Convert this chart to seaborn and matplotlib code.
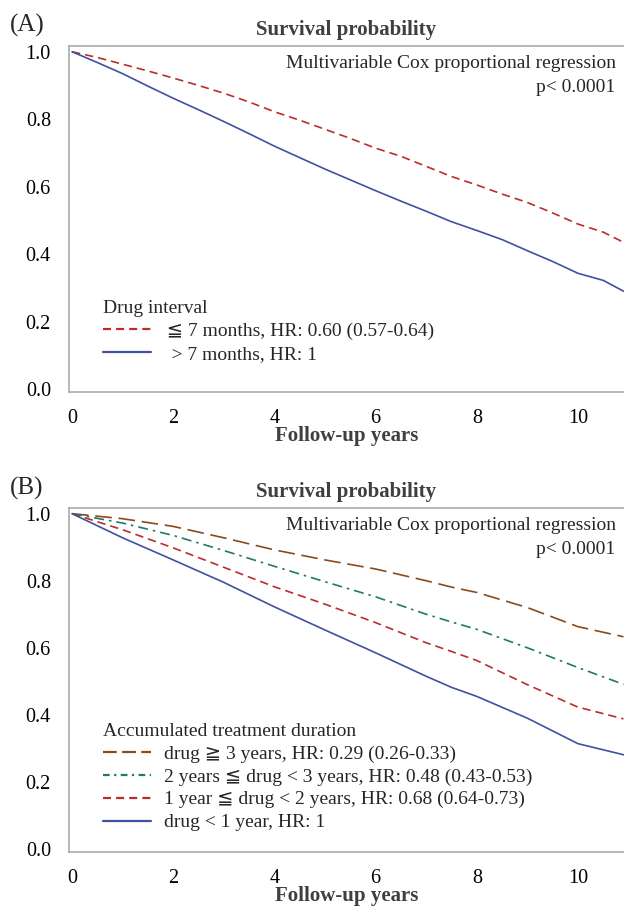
import matplotlib
matplotlib.use("Agg")
import matplotlib.pyplot as plt
import seaborn as sns
import pandas as pd

# --- Panel A: drug interval ---
years_a = [0, 0.5, 1, 1.5, 2, 2.5, 3, 3.5, 4, 4.5, 5, 5.5, 6, 6.5, 7, 7.5,
           8, 8.5, 9, 9.5, 10, 10.5, 10.9]
short_interval = [1.0, 0.983, 0.963, 0.943, 0.922, 0.900, 0.877, 0.851, 0.822,
                  0.797, 0.770, 0.743, 0.714, 0.690, 0.660, 0.630, 0.605,
                  0.578, 0.553, 0.522, 0.489, 0.465, 0.435]
long_interval = [1.0, 0.968, 0.935, 0.898, 0.862, 0.828, 0.793, 0.757, 0.720,
                 0.686, 0.652, 0.620, 0.588, 0.557, 0.527, 0.496, 0.470,
                 0.443, 0.410, 0.378, 0.343, 0.322, 0.290]
labels_a = ["  \u2266 7 months, HR: 0.60 (0.57-0.64)", "   > 7 months, HR: 1"]

# --- Panel B: accumulated treatment duration ---
years_b = [0, 1, 2, 3, 4, 5, 6, 7, 7.5, 8, 9, 10, 10.9]
dur_3plus = [1.0, 0.985, 0.962, 0.928, 0.892, 0.862, 0.835, 0.800, 0.781,
             0.765, 0.720, 0.663, 0.633]
dur_2to3 = [1.0, 0.972, 0.935, 0.890, 0.843, 0.797, 0.752, 0.700, 0.677,
            0.655, 0.600, 0.541, 0.491]
dur_1to2 = [1.0, 0.952, 0.898, 0.840, 0.782, 0.730, 0.675, 0.615, 0.589,
            0.562, 0.490, 0.423, 0.388]
dur_lt1 = [1.0, 0.928, 0.862, 0.795, 0.722, 0.653, 0.585, 0.515, 0.482,
           0.455, 0.390, 0.314, 0.281]
labels_b = [
    "drug \u2267 3 years, HR: 0.29 (0.26-0.33)",
    "2 years \u2266 drug < 3 years, HR: 0.48 (0.43-0.53)",
    "1 year \u2266 drug < 2 years, HR: 0.68 (0.64-0.73)",
    "drug < 1 year, HR: 1",
]

x_ticks = [0, 2, 4, 6, 8, 10]
y_ticks = [0.0, 0.2, 0.4, 0.6, 0.8, 1.0]

RED = "#bd2c2c"
BLUE = "#3f51a0"
BROWN = "#8a4a1c"
GREEN = "#1f7a66"
SPINE = "#a8acb4"
GRAY_TEXT = "#3f3f3f"
FS = 14

sns.set_theme(style="white")
plt.rcParams["font.family"] = ["Liberation Serif", "DejaVu Serif", "DejaVu Sans"]

fig = plt.figure(figsize=(6.24, 9.11), dpi=100)
ax_a = fig.add_axes([0.1106, 0.5697, 0.8894, 0.3798])
ax_b = fig.add_axes([0.1106, 0.0648, 0.8894, 0.3776])


def style_axes(ax, title):
    ax.set_xlim(-0.06, 10.91)
    ax.set_ylim(-0.009, 1.017)
    ax.set_xticks(x_ticks)
    ax.set_yticks(y_ticks)
    ax.set_yticklabels([f"{v:.1f}" for v in y_ticks])
    ax.tick_params(axis="both", which="major", labelsize=14.5, colors=SPINE,
                   labelcolor="black", length=4, width=1, direction="out")
    ax.tick_params(axis="x", pad=8)
    ax.tick_params(axis="y", pad=9)
    for side in ["left", "bottom", "top"]:
        ax.spines[side].set_color(SPINE)
        ax.spines[side].set_linewidth(1.2)
    ax.spines["right"].set_visible(False)
    ax.set_title(title, fontsize=15, fontweight="bold", color=GRAY_TEXT, pad=8)
    ax.set_xlabel("Follow-up years", fontsize=15, fontweight="bold",
                  color=GRAY_TEXT, labelpad=-1)
    ax.set_ylabel("")
    ax.text(0.985, 0.975, "Multivariable Cox proportional regression",
            transform=ax.transAxes, ha="right", va="top", fontsize=FS)
    ax.text(0.985, 0.905, "p< 0.0001", transform=ax.transAxes,
            ha="right", va="top", fontsize=FS)


def make_legend(ax, title, anchor, textpad, handle_dashes):
    leg = ax.legend(title=title, loc="lower left", bbox_to_anchor=anchor,
                    frameon=False, fontsize=FS, title_fontsize=FS,
                    alignment="left", handlelength=2.45, handletextpad=textpad,
                    labelspacing=0.27, borderpad=0, borderaxespad=0)
    for line, dash in zip(leg.get_lines(), handle_dashes):
        line.set_linewidth(1.6)
        if dash is not None:
            line.set_dashes(dash)


# Panel A
df_a = pd.DataFrame({"year": years_a, "short": short_interval,
                     "long": long_interval})
sns.lineplot(data=df_a, x="year", y="short", ax=ax_a, color=RED, lw=1.2,
             linestyle=(0, (5, 3)), label=labels_a[0])
sns.lineplot(data=df_a, x="year", y="long", ax=ax_a, color=BLUE, lw=1.2,
             label=labels_a[1])
style_axes(ax_a, "Survival probability")
make_legend(ax_a, "Drug interval", (0.062, 0.084), 0.3,
            [(3.6, 2.3), None])

# Panel B
df_b = pd.DataFrame({"year": years_b, "d3": dur_3plus, "d2": dur_2to3,
                     "d1": dur_1to2, "d0": dur_lt1})
sns.lineplot(data=df_b, x="year", y="d3", ax=ax_b, color=BROWN, lw=1.2,
             linestyle=(0, (10, 4)), label=labels_b[0])
sns.lineplot(data=df_b, x="year", y="d2", ax=ax_b, color=GREEN, lw=1.2,
             linestyle=(0, (6, 3, 1.5, 3)), label=labels_b[1])
sns.lineplot(data=df_b, x="year", y="d1", ax=ax_b, color=RED, lw=1.2,
             linestyle=(0, (5, 3)), label=labels_b[2])
sns.lineplot(data=df_b, x="year", y="d0", ax=ax_b, color=BLUE, lw=1.2,
             label=labels_b[3])
style_axes(ax_b, "Survival probability")
make_legend(ax_b, "Accumulated treatment duration", (0.062, 0.06), 0.65,
            [(6.2, 2.4), (3.0, 2.0, 1.0, 2.0), (3.6, 2.3), None])

fig.text(0.016, 0.9726, "(A)", fontsize=18, ha="left", va="center")
fig.text(0.016, 0.4635, "(B)", fontsize=18, ha="left", va="center")

fig.savefig("out.png", dpi=100)
